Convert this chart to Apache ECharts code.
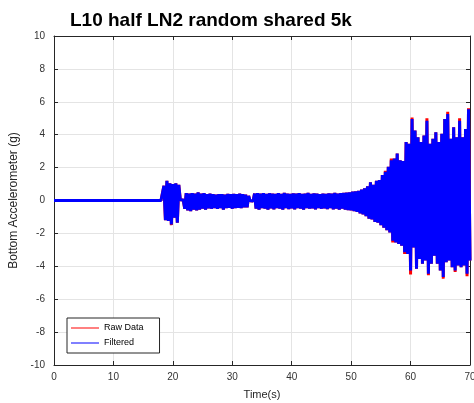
<!DOCTYPE html>
<html>
<head>
<meta charset="utf-8">
<title>L10 half LN2 random shared 5k</title>
<script src="https://cdn.jsdelivr.net/npm/echarts@6/dist/echarts.min.js"></script>
<style>
    html, body { margin: 0; padding: 0; background: #fff; }
    #chart { width: 474px; height: 403px; }
</style>
</head>
<body>
<div id="chart"></div>
<script>
    // quiet part of the record (before the shaker starts)
    var quietTimes = [0, 6, 12, 18];
    var quietValues = [0, 0, 0, 0];

    // sampled record from 18.25 s to 70 s, one value every 0.25 s (4 per row = 1 s)
    var sampleStart = 18.25;
    var sampleStep = 0.25;

    var filtered = [
        0, 0.9, -1.2, 1.2,         // 18
        -1.25, 1.05, -1.45, 1.0,   // 19
        -1.05, 1.05, -1.35, 0.95,  // 20
        0.05, -0.03, 0.03, -0.5,   // 21
        0.45, -0.6, 0.42, -0.65,   // 22
        0.45, -0.55, 0.42, -0.6,   // 23
        0.5, -0.55, 0.42, -0.5,    // 24
        0.45, -0.55, 0.38, -0.48,  // 25
        0.42, -0.5, 0.38, -0.46,   // 26
        0.36, -0.5, 0.38, -0.46,   // 27
        0.38, -0.55, 0.36, -0.46,  // 28
        0.4, -0.45, 0.38, -0.5,    // 29
        0.4, -0.46, 0.38, -0.45,   // 30
        0.42, -0.46, 0.38, -0.42,  // 31
        0.36, -0.42, 0.28, -0.02,  // 32
        0.02, -0.03, 0.42, -0.5,   // 33
        0.45, -0.55, 0.42, -0.46,  // 34
        0.45, -0.5, 0.4, -0.55,    // 35
        0.44, -0.48, 0.42, -0.54,  // 36
        0.4, -0.46, 0.44, -0.5,    // 37
        0.4, -0.55, 0.46, -0.46,   // 38
        0.41, -0.52, 0.4, -0.48,   // 39
        0.43, -0.54, 0.41, -0.46,  // 40
        0.45, -0.5, 0.4, -0.55,    // 41
        0.42, -0.46, 0.46, -0.5,   // 42
        0.4, -0.48, 0.43, -0.54,   // 43
        0.41, -0.46, 0.38, -0.5,   // 44
        0.42, -0.48, 0.4, -0.52,   // 45
        0.43, -0.46, 0.41, -0.54,  // 46
        0.46, -0.5, 0.42, -0.55,   // 47
        0.45, -0.5, 0.46, -0.55,   // 48
        0.48, -0.58, 0.5, -0.6,    // 49
        0.54, -0.65, 0.56, -0.7,   // 50
        0.58, -0.78, 0.66, -0.85,  // 51
        0.74, -0.95, 0.86, -1.1,   // 52
        1.1, -1.15, 0.95, -1.3,    // 53
        1.2, -1.35, 1.25, -1.5,    // 54
        1.55, -1.65, 1.75, -1.8,   // 55
        2.05, -1.95, 2.45, -2.45,  // 56
        2.55, -2.55, 2.85, -2.65,  // 57
        2.45, -2.75, 2.4, -3.15,   // 58
        3.55, -3.25, 3.45, -4.25,  // 59
        4.95, -2.85, 4.25, -4.15,  // 60
        3.85, -3.55, 3.55, -3.85,  // 61
        3.95, -3.65, 4.85, -4.45,  // 62
        3.45, -3.85, 3.75, -3.35,  // 63
        4.15, -3.85, 3.55, -4.25,  // 64
        4.05, -4.65, 4.95, -3.75,  // 65
        5.25, -3.65, 3.75, -4.05,  // 66
        4.45, -4.25, 3.85, -3.95,  // 67
        4.85, -4.05, 3.85, -3.95,  // 68
        4.35, -4.45, 5.55, -3.65   // 69
    ];

    var raw = [
        0, 0.9, -1.2, 1.2,
        -1.25, 1.05, -1.5, 1.0,
        -1.05, 1.05, -1.35, 0.95,
        0.05, -0.03, 0.03, -0.5,
        0.45, -0.6, 0.42, -0.65,
        0.45, -0.55, 0.42, -0.6,
        0.5, -0.55, 0.42, -0.5,
        0.45, -0.55, 0.38, -0.48,
        0.42, -0.5, 0.38, -0.46,
        0.36, -0.5, 0.38, -0.46,
        0.38, -0.55, 0.36, -0.46,
        0.4, -0.45, 0.38, -0.5,
        0.4, -0.46, 0.38, -0.45,
        0.42, -0.46, 0.38, -0.42,
        0.36, -0.42, 0.28, -0.02,
        0.02, -0.03, 0.42, -0.5,
        0.45, -0.55, 0.42, -0.46,
        0.45, -0.5, 0.4, -0.55,
        0.44, -0.48, 0.42, -0.54,
        0.4, -0.46, 0.44, -0.5,
        0.4, -0.55, 0.46, -0.46,
        0.41, -0.52, 0.4, -0.48,
        0.43, -0.54, 0.41, -0.46,
        0.45, -0.5, 0.4, -0.55,
        0.42, -0.46, 0.46, -0.5,
        0.4, -0.48, 0.43, -0.54,
        0.41, -0.46, 0.38, -0.5,
        0.42, -0.48, 0.4, -0.52,
        0.43, -0.46, 0.41, -0.54,
        0.46, -0.5, 0.42, -0.55,
        0.45, -0.5, 0.46, -0.55,
        0.48, -0.58, 0.5, -0.6,
        0.54, -0.65, 0.56, -0.7,
        0.58, -0.78, 0.66, -0.85,
        0.74, -0.95, 0.86, -1.1,
        1.1, -1.15, 0.95, -1.3,
        1.2, -1.35, 1.25, -1.5,
        1.55, -1.65, 1.8, -1.8,
        2.05, -1.95, 2.55, -2.55,
        2.55, -2.55, 2.85, -2.65,
        2.45, -2.75, 2.4, -3.25,
        3.55, -3.25, 3.45, -4.5,
        5.05, -2.85, 4.25, -4.15,
        3.85, -3.55, 3.55, -3.85,
        3.95, -3.65, 5.0, -4.55,
        3.45, -3.85, 3.75, -3.35,
        4.15, -3.85, 3.55, -4.25,
        4.05, -4.75, 4.95, -3.75,
        5.4, -3.65, 3.75, -4.05,
        4.45, -4.35, 3.85, -3.95,
        5.0, -4.05, 3.85, -3.95,
        4.35, -4.6, 5.6, -3.65
    ];

    var xTicks = { min: 0, max: 70, interval: 10 };
    var yTicks = { min: -10, max: 10, interval: 2 };

    function toPoints(values) {
        var pts = [];
        for (var i = 0; i < quietTimes.length; i++) {
            pts.push([quietTimes[i], quietValues[i]]);
        }
        for (var j = 0; j < values.length; j++) {
            pts.push([sampleStart + j * sampleStep, values[j]]);
        }
        return pts;
    }

    var font = 'Liberation Sans, Arial, Helvetica, sans-serif';
    var frame = '#262626';

    function frameAxis(ticks, pos, labels) {
        return {
            type: 'value',
            position: pos,
            min: ticks.min,
            max: ticks.max,
            interval: ticks.interval,
            axisLine: { show: true, onZero: false, lineStyle: { color: frame, width: 1 } },
            axisTick: { show: true, inside: true, length: 4, lineStyle: { color: frame } },
            axisLabel: {
                show: labels,
                showMinLabel: true,
                showMaxLabel: true,
                fontFamily: font,
                fontSize: 10,
                color: '#333'
            },
            splitLine: { show: labels, lineStyle: { color: '#e4e4e4', width: 1 } }
        };
    }

    var chart = echarts.init(document.getElementById('chart'));

    var xBottom = frameAxis(xTicks, 'bottom', true);
    xBottom.name = 'Time(s)';
    xBottom.nameLocation = 'middle';
    xBottom.nameGap = 24;
    xBottom.nameTextStyle = { fontFamily: font, fontSize: 11, color: '#262626' };
    xBottom.axisLabel.margin = 7;

    var yLeft = frameAxis(yTicks, 'left', true);
    yLeft.name = 'Bottom Accelerometer (g)';
    yLeft.nameLocation = 'middle';
    yLeft.nameGap = 32;
    yLeft.nameTextStyle = { fontFamily: font, fontSize: 12, color: '#262626' };
    yLeft.axisLabel.margin = 9;

    var lineCommon = {
        type: 'line',
        showSymbol: false,
        symbol: 'none',
        sampling: 'none',
        silent: true
    };

    var option = {
        animation: false,
        backgroundColor: '#fff',
        title: {
            text: 'L10 half LN2 random shared 5k',
            left: 70,
            top: 11,
            padding: 0,
            textStyle: { fontFamily: font, fontSize: 19, fontWeight: 'bold', color: '#000' }
        },
        legend: {
            orient: 'vertical',
            left: 67,
            top: 318,
            padding: [4, 16, 4, 4],
            itemGap: 3,
            itemWidth: 28,
            itemHeight: 1,
            icon: 'rect',
            backgroundColor: '#fff',
            borderColor: frame,
            borderWidth: 1,
            borderRadius: 0,
            textStyle: { fontFamily: font, fontSize: 9, color: '#000', lineHeight: 12 },
            data: ['Raw Data', 'Filtered']
        },
        grid: { left: 54, right: 4, top: 36, bottom: 38, outerBoundsMode: 'none' },
        xAxis: [xBottom, frameAxis(xTicks, 'top', false)],
        yAxis: [yLeft, frameAxis(yTicks, 'right', false)],
        series: [
            Object.assign({
                name: 'Raw Data',
                data: toPoints(raw),
                itemStyle: { color: '#ff0000' },
                lineStyle: { color: '#ff0000', width: 3, join: 'bevel' }
            }, lineCommon),
            Object.assign({
                name: 'Filtered',
                data: toPoints(filtered),
                itemStyle: { color: '#0000ff' },
                lineStyle: { color: '#0000ff', width: 3, join: 'bevel' }
            }, lineCommon)
        ]
    };

    chart.setOption(option);
</script>
</body>
</html>
